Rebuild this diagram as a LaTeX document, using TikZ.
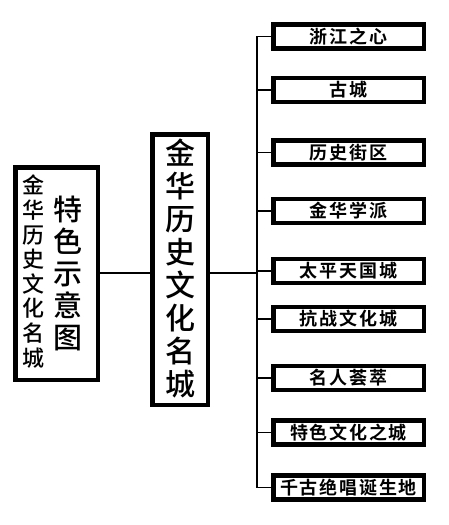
\documentclass[tikz,border=0pt]{standalone}
\usepackage{fontspec}
\setmainfont{Noto Sans CJK SC Medium}
\newfontfamily\cjkb{Noto Sans CJK SC Bold}[LetterSpace=10]
\begin{document}
\begin{tikzpicture}[x=1pt,y=1pt,
  thickbox/.style={draw=black,line width=4.5pt,inner sep=0pt,fill=white},
  leafbox/.style={thickbox,minimum width=150.5pt,minimum height=24pt,
     font=\cjkb\fontsize{18pt}{18pt}\selectfont},
  vtext/.style={align=center,inner sep=0pt},
  link/.style={draw=black,line width=1.1pt}]
\fill[white] (0,0) rectangle (449,-525);
\useasboundingbox (0,0) rectangle (449,-525);
% left box
\node[thickbox,minimum width=82.5pt,minimum height=212.5pt] (left) at (56.5,-273.5) {};
\node[vtext,font=\fontsize{22pt}{24.6pt}\selectfont] (lefta) at (33,-271.5)
  {金\\华\\历\\史\\文\\化\\名\\城};
\node[vtext,font=\fontsize{29pt}{32pt}\selectfont] (leftb) at (68,-273)
  {特\\色\\示\\意\\图};
% middle box
\node[thickbox,minimum width=55.5pt,minimum height=270.5pt] (mid) at (180,-269.5) {};
\node[vtext,font=\fontsize{30pt}{33pt}\selectfont] (midt) at (180,-268.5)
  {金\\华\\历\\史\\文\\化\\名\\城};
% right boxes
\coordinate (trunk) at (257,0);
\node[leafbox] (b1) at (348.5,-36.5) {浙江之心};
\node[leafbox] (b2) at (348.5,-90) {古城};
\node[leafbox] (b3) at (348.5,-152.5) {历史街区};
\node[leafbox] (b4) at (348.5,-211) {金华学派};
\node[leafbox] (b5) at (348.5,-271) {太平天国城};
\node[leafbox] (b6) at (348.5,-319) {抗战文化城};
\node[leafbox] (b7) at (348.5,-378) {名人荟萃};
\node[leafbox] (b8) at (348.5,-432.5) {特色文化之城};
\node[leafbox] (b9) at (348.5,-487.5) {千古绝唱诞生地};
% connectors
\coordinate (j) at (0,-273);
\draw[link] (left.east |- j) -- (mid.west |- j);
\draw[link] (mid.east |- j) -- (trunk |- j);
\draw[link] (b1.west) -- (b1.west -| trunk) -- (b9.west -| trunk) -- (b9.west);
\foreach \i in {2,...,8} {\draw[link] (b\i.west -| trunk) -- (b\i.west);}
\end{tikzpicture}
\end{document}
